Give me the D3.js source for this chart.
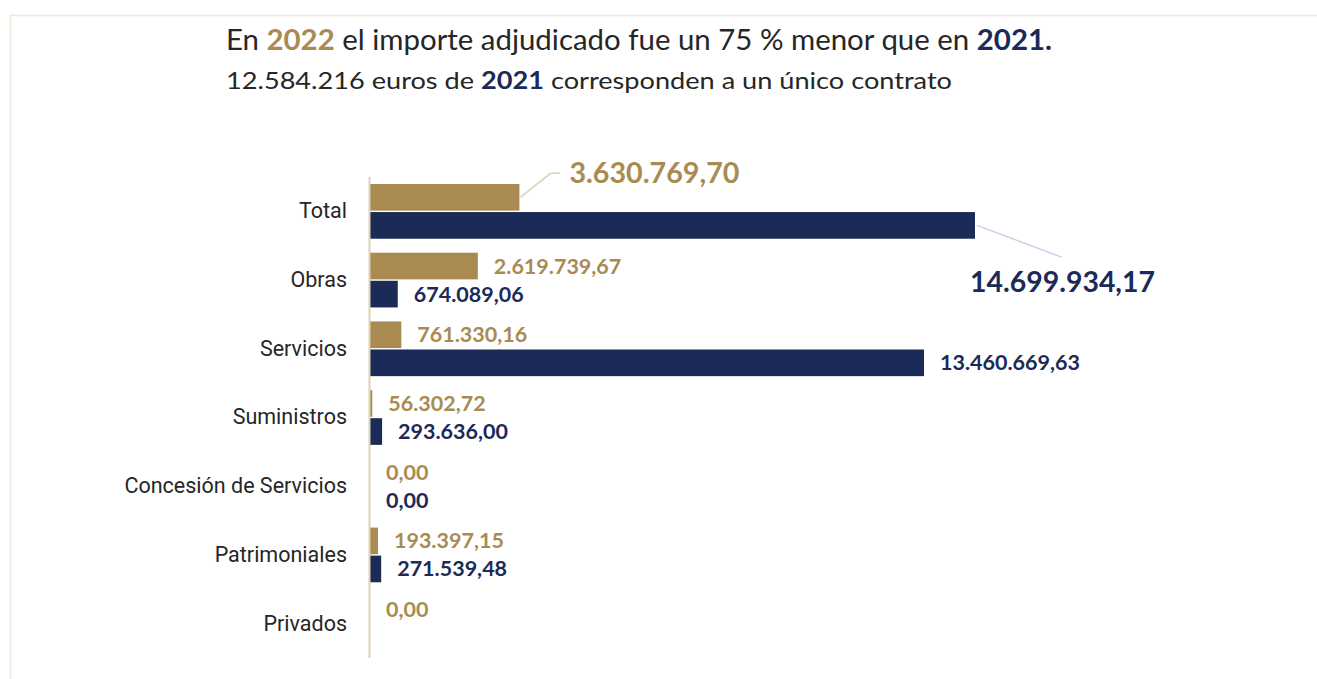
<!DOCTYPE html>
<html>
<head>
<meta charset="utf-8">
<script src="https://cdn.jsdelivr.net/npm/d3@7"></script>
<style>
  html, body { margin: 0; padding: 0; background: #ffffff; }
  svg { display: block; }
</style>
</head>
<body>
<svg id="chart" width="1317" height="679"></svg>
<script>
// ---- data ----
const categories = ["Total", "Obras", "Servicios", "Suministros", "Concesión de Servicios", "Patrimoniales", "Privados"];
const series = ["2022", "2021"];
const values2022 = [3630769.70, 2619739.67, 761330.16, 56302.72, 0.00, 193397.15, 0.00];
const values2021 = [14699934.17, 674089.06, 13460669.63, 293636.00, 0.00, 271539.48, null];
const titleLine1 = [["En ", "plain"], ["2022", "y2022"], [" el importe adjudicado fue un 75 % menor que en ", "plain"], ["2021.", "y2021"]];
const titleLine2 = [["12.584.216 euros de ", "plain"], ["2021", "y2021"], [" corresponden a un único contrato", "plain"]];

// ---- styles ----
const GOLD = "#a98b52";
const NAVY = "#1b2a57";
const TEXT = "#262626";
const colors = { "2022": GOLD, "2021": NAVY };

const svg = d3.select("#chart");

// frame
svg.append("rect")
  .attr("x", 10.5).attr("y", 15.5)
  .attr("width", 1330).attr("height", 700)
  .attr("fill", "none").attr("stroke", "#eee8da").attr("stroke-width", 1.5);

// title
function drawLine(parts, x, y, size, len) {
  const t = svg.append("text").attr("x", x).attr("y", y)
    .attr("font-family", "Lato, 'Open Sans', sans-serif")
    .attr("font-size", size).attr("fill", TEXT)
    .attr("textLength", len).attr("lengthAdjust", "spacingAndGlyphs");
  parts.forEach(([s, k]) => {
    const ts = t.append("tspan").text(s);
    if (k === "y2022") ts.attr("fill", GOLD).attr("font-weight", "bold");
    if (k === "y2021") ts.attr("fill", NAVY).attr("font-weight", "bold");
  });
}
drawLine(titleLine1, 226, 50, 28, 826);
drawLine(titleLine2, 226, 89, 24, 726);

// scales
const x = d3.scaleLinear().domain([0, values2021[0]]).range([370, 975]);
const y = d3.scaleBand().domain(categories).range([177, 658]);
const ySub = d3.scaleBand().domain(series).range([7, y.bandwidth() - 7]).paddingInner(0.05);

const loc = d3.formatLocale({ decimal: ",", thousands: ".", grouping: [3], currency: ["", "€"] });
const fmt = loc.format(",.2f");

const rows = [];
categories.forEach((c, i) => {
  rows.push({ cat: c, s: "2022", v: values2022[i], i });
  if (values2021[i] !== null) rows.push({ cat: c, s: "2021", v: values2021[i], i });
});

// bars
svg.append("g").selectAll("rect").data(rows.filter(d => d.v > 0)).join("rect")
  .attr("x", x(0))
  .attr("y", d => y(d.cat) + ySub(d.s))
  .attr("width", d => x(d.v) - x(0))
  .attr("height", ySub.bandwidth())
  .attr("fill", d => colors[d.s]);

// axis line
svg.append("line")
  .attr("x1", 369.5).attr("x2", 369.5)
  .attr("y1", y.range()[0]).attr("y2", y.range()[1])
  .attr("stroke", "#ddd1b6").attr("stroke-width", 2);

// category labels
const yAxis = d3.axisLeft(y).tickSize(0).tickPadding(0);
const ga = svg.append("g").attr("transform", "translate(347,0)").call(yAxis);
ga.select(".domain").remove();
ga.selectAll("text")
  .attr("font-family", "Roboto, sans-serif").attr("font-size", 21.5).attr("fill", TEXT);

// value labels (non-Total)
svg.append("g").selectAll("text").data(rows.filter(d => d.i > 0)).join("text")
  .attr("x", d => x(d.v) + 16)
  .attr("y", d => y(d.cat) + ySub(d.s) + ySub.bandwidth() / 2)
  .attr("dy", "0.35em")
  .attr("font-family", "Lato, 'Open Sans', sans-serif")
  .attr("font-weight", "bold").attr("font-size", 21.5)
  .attr("fill", d => colors[d.s])
  .text(d => fmt(d.v));

// Total callouts
const tg = rows.find(d => d.i === 0 && d.s === "2022");
const tn = rows.find(d => d.i === 0 && d.s === "2021");
const gx = x(tg.v), gy = y(tg.cat) + ySub(tg.s) + ySub.bandwidth() / 2;
svg.append("polyline")
  .attr("points", [[gx + 1, gy], [gx + 31, gy - 24], [gx + 41, gy - 24]].map(p => p.join(",")).join(" "))
  .attr("fill", "none").attr("stroke", "#ddd1b6").attr("stroke-width", 1.5);
svg.append("text")
  .attr("x", gx + 50).attr("y", gy - 24).attr("dy", "0.35em")
  .attr("font-family", "Lato, 'Open Sans', sans-serif")
  .attr("font-weight", "bold").attr("font-size", 28).attr("fill", GOLD)
  .attr("textLength", 170).attr("lengthAdjust", "spacingAndGlyphs")
  .text(fmt(tg.v));

const nx = x(tn.v), ny = y(tn.cat) + ySub(tn.s) + ySub.bandwidth() / 2;
svg.append("line")
  .attr("x1", nx + 2).attr("y1", ny).attr("x2", nx + 87).attr("y2", ny + 32)
  .attr("stroke", "#c9d1ea").attr("stroke-width", 1.5);
svg.append("text")
  .attr("x", nx - 5).attr("y", ny + 57).attr("dy", "0.35em")
  .attr("font-family", "Lato, 'Open Sans', sans-serif")
  .attr("font-weight", "bold").attr("font-size", 28).attr("fill", NAVY)
  .attr("textLength", 185).attr("lengthAdjust", "spacingAndGlyphs")
  .text(fmt(tn.v));
</script>
</body>
</html>
